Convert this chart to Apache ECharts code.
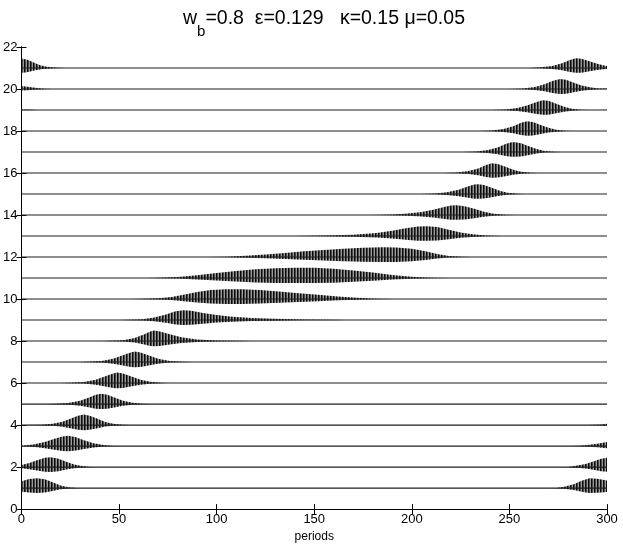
<!DOCTYPE html>
<html>
<head>
<meta charset="utf-8">
<script src="https://cdn.jsdelivr.net/npm/echarts@6/dist/echarts.min.js"></script>
<style>html,body{margin:0;padding:0;background:#fff;}#chart{width:623px;height:548px;}</style>
</head>
<body>
<div id="chart"></div>
<script>
// ---- data ----
// each trace: [period, upper envelope, lower envelope] relative to its offset
const offsets = [1,2,3,4,5,6,7,8,9,10,11,12,13,14,15,16,17,18,19,20,21];
const xTicks = [0,50,100,150,200,250,300];
const yTicks = [0,2,4,6,8,10,12,14,16,18,20,22];

const trace1 = [[0,0.33,0.17],[4,0.43,0.21],[8,0.47,0.23],[12,0.42,0.21],[16,0.28,0.14],[20,0.12,0.06],[24,0.04,0.02],[28,0.01,0.005],[32,0,0],[270,0,0],[274,0.01,0.005],[278,0.06,0.03],[283,0.18,0.09],[287,0.35,0.17],[291,0.47,0.23],[295,0.44,0.22],[300,0.36,0.18]];
const trace2 = [[0,0.1,0.05],[4,0.2,0.1],[8,0.33,0.16],[12,0.45,0.22],[15,0.47,0.23],[19,0.4,0.2],[23,0.25,0.12],[27,0.12,0.06],[31,0.05,0.025],[35,0.01,0.005],[39,0,0],[276,0,0],[280,0.01,0.005],[284,0.06,0.03],[289,0.15,0.07],[293,0.27,0.13],[297,0.4,0.2],[300,0.45,0.22]];
const trace3 = [[0,0.02,0.01],[6,0.07,0.035],[12,0.2,0.1],[17,0.35,0.17],[21,0.46,0.23],[24,0.49,0.24],[28,0.42,0.21],[32,0.28,0.14],[37,0.14,0.07],[42,0.05,0.025],[47,0.01,0.005],[51,0,0],[282,0,0],[286,0.02,0.01],[290,0.05,0.025],[295,0.11,0.055],[300,0.2,0.1]];
const trace4 = [[0,0,0],[10,0.01,0.005],[16,0.06,0.03],[21,0.16,0.08],[25,0.3,0.15],[29,0.45,0.22],[32,0.5,0.25],[35,0.45,0.22],[39,0.3,0.15],[43,0.15,0.07],[47,0.06,0.03],[52,0.01,0.005],[56,0,0],[290,0,0],[294,0.01,0.005],[297,0.03,0.015],[300,0.06,0.03]];
const trace5 = [[0,0,0],[13,0,0],[17,0.01,0.005],[24,0.05,0.025],[30,0.16,0.08],[35,0.32,0.16],[38,0.44,0.22],[41,0.49,0.24],[44,0.44,0.22],[48,0.3,0.15],[52,0.16,0.08],[57,0.06,0.03],[62,0.01,0.005],[66,0,0],[300,0,0]];
const trace6 = [[0,0,0],[20,0,0],[24,0.01,0.005],[32,0.05,0.025],[38,0.16,0.08],[43,0.32,0.16],[47,0.46,0.23],[49,0.5,0.25],[52,0.46,0.23],[56,0.32,0.16],[61,0.16,0.08],[66,0.06,0.03],[72,0.01,0.005],[76,0,0],[300,0,0]];
const trace7 = [[0,0,0],[29,0,0],[33,0.01,0.005],[41,0.05,0.025],[47,0.16,0.08],[52,0.32,0.16],[56,0.46,0.23],[58,0.5,0.25],[61,0.46,0.23],[65,0.32,0.16],[70,0.16,0.08],[76,0.05,0.025],[83,0.01,0.005],[88,0,0],[300,0,0]];
const trace8 = [[0,0,0],[41,0,0],[45,0.01,0.005],[52,0.04,0.02],[58,0.15,0.07],[63,0.33,0.16],[66,0.46,0.23],[68,0.5,0.25],[71,0.46,0.23],[76,0.32,0.16],[82,0.18,0.09],[90,0.08,0.04],[100,0.03,0.015],[112,0.01,0.005],[118,0,0],[300,0,0]];
const trace9 = [[0,0,0],[50,0,0],[55,0.01,0.005],[62,0.04,0.02],[68,0.12,0.06],[74,0.27,0.13],[79,0.42,0.21],[83,0.47,0.23],[87,0.44,0.22],[93,0.34,0.17],[100,0.24,0.12],[108,0.16,0.08],[118,0.1,0.05],[130,0.06,0.03],[145,0.03,0.015],[160,0.01,0.005],[166,0,0],[300,0,0]];
const trace10 = [[0,0,0],[57,0,0],[62,0.01,0.005],[70,0.04,0.02],[77,0.1,0.05],[83,0.2,0.1],[90,0.33,0.16],[97,0.43,0.21],[105,0.47,0.23],[113,0.47,0.23],[122,0.43,0.21],[132,0.36,0.18],[142,0.28,0.14],[152,0.2,0.1],[162,0.12,0.06],[172,0.06,0.03],[182,0.02,0.01],[192,0.005,0.003],[198,0,0],[300,0,0]];
const trace11 = [[0,0,0],[64,0,0],[70,0.01,0.005],[80,0.05,0.025],[90,0.13,0.065],[100,0.24,0.12],[110,0.34,0.17],[120,0.42,0.21],[130,0.47,0.23],[140,0.49,0.24],[150,0.49,0.24],[160,0.44,0.22],[170,0.36,0.18],[180,0.26,0.13],[190,0.14,0.07],[200,0.06,0.03],[210,0.02,0.01],[220,0.005,0.003],[226,0,0],[300,0,0]];
const trace12 = [[0,0,0],[90,0,0],[95,0.005,0.003],[105,0.02,0.01],[115,0.06,0.03],[125,0.12,0.06],[135,0.19,0.09],[145,0.27,0.13],[155,0.34,0.17],[165,0.4,0.2],[175,0.44,0.22],[185,0.47,0.23],[192,0.46,0.23],[200,0.4,0.2],[207,0.28,0.14],[213,0.14,0.07],[219,0.05,0.025],[226,0.01,0.005],[231,0,0],[300,0,0]];
const trace13 = [[0,0,0],[135,0,0],[140,0.005,0.003],[155,0.02,0.01],[170,0.06,0.03],[182,0.14,0.07],[190,0.25,0.12],[197,0.37,0.18],[203,0.45,0.22],[208,0.47,0.23],[213,0.43,0.21],[219,0.3,0.15],[225,0.17,0.08],[231,0.08,0.04],[238,0.03,0.015],[246,0.005,0.003],[251,0,0],[300,0,0]];
const trace14 = [[0,0,0],[175,0,0],[180,0.005,0.003],[190,0.02,0.01],[198,0.07,0.035],[205,0.14,0.07],[211,0.25,0.12],[216,0.37,0.18],[220,0.45,0.22],[223,0.47,0.23],[227,0.42,0.21],[232,0.3,0.15],[237,0.16,0.08],[242,0.06,0.03],[248,0.01,0.005],[253,0,0],[300,0,0]];
const trace15 = [[0,0,0],[200,0,0],[205,0.005,0.003],[212,0.03,0.015],[218,0.09,0.045],[224,0.2,0.1],[229,0.37,0.18],[232,0.45,0.22],[234,0.47,0.23],[237,0.43,0.21],[241,0.3,0.15],[245,0.16,0.08],[249,0.06,0.03],[254,0.01,0.005],[258,0,0],[300,0,0]];
const trace16 = [[0,0,0],[212,0,0],[216,0.005,0.003],[223,0.03,0.015],[229,0.1,0.05],[234,0.22,0.11],[238,0.38,0.19],[241,0.47,0.23],[244,0.43,0.21],[248,0.3,0.15],[252,0.16,0.08],[256,0.06,0.03],[261,0.01,0.005],[265,0,0],[300,0,0]];
const trace17 = [[0,0,0],[222,0,0],[226,0.005,0.003],[233,0.03,0.015],[239,0.1,0.05],[244,0.22,0.11],[248,0.38,0.19],[251,0.46,0.23],[253,0.47,0.23],[256,0.42,0.21],[260,0.28,0.14],[264,0.14,0.07],[268,0.05,0.025],[273,0.01,0.005],[277,0,0],[300,0,0]];
const trace18 = [[0,0,0],[230,0,0],[234,0.005,0.003],[241,0.03,0.015],[247,0.1,0.05],[252,0.23,0.11],[256,0.39,0.19],[259,0.47,0.23],[262,0.43,0.21],[266,0.29,0.14],[270,0.15,0.07],[274,0.06,0.03],[279,0.01,0.005],[283,0,0],[300,0,0]];
const trace19 = [[0,0.03,0.015],[4,0.02,0.01],[8,0.005,0.003],[12,0,0],[237,0,0],[241,0.005,0.003],[248,0.03,0.015],[254,0.1,0.05],[259,0.22,0.11],[264,0.38,0.19],[267,0.47,0.23],[270,0.44,0.22],[274,0.3,0.15],[278,0.16,0.08],[282,0.06,0.03],[287,0.01,0.005],[291,0,0],[296,0.005,0.003],[300,0.01,0.005]];
const trace20 = [[0,0.14,0.07],[3,0.11,0.055],[6,0.07,0.035],[9,0.04,0.02],[12,0.015,0.008],[16,0.005,0.003],[20,0,0],[246,0,0],[250,0.005,0.003],[257,0.03,0.015],[263,0.1,0.05],[268,0.23,0.11],[272,0.38,0.19],[276,0.48,0.24],[279,0.44,0.22],[283,0.3,0.15],[287,0.17,0.08],[292,0.07,0.035],[296,0.03,0.015],[300,0.02,0.01]];
const trace21 = [[0,0.45,0.22],[2,0.42,0.21],[4,0.36,0.18],[6,0.27,0.13],[8,0.19,0.09],[10,0.12,0.06],[13,0.06,0.03],[17,0.02,0.01],[22,0.005,0.003],[26,0,0],[256,0,0],[260,0.005,0.003],[266,0.03,0.015],[272,0.1,0.05],[277,0.23,0.11],[281,0.38,0.19],[284,0.47,0.23],[287,0.44,0.22],[291,0.32,0.16],[295,0.2,0.1],[298,0.13,0.065],[300,0.1,0.05]];

const traces = [trace1,trace2,trace3,trace4,trace5,trace6,trace7,trace8,trace9,trace10,trace11,trace12,trace13,trace14,trace15,trace16,trace17,trace18,trace19,trace20,trace21];
const xRange = [0, 300];

// ---- style: dense vertical stripes to imitate the fast oscillation ----
const pat = document.createElement('canvas');
pat.width = 3; pat.height = 2;
const pctx = pat.getContext('2d');
['#0a0a0a','#4a4a4a','#9a9a9a'].forEach((c,i)=>{ pctx.fillStyle=c; pctx.fillRect(i,0,1,2); });
const stripeFill = { image: pat, repeat: 'repeat' };

const FONT = '"Liberation Sans", Arial, Helvetica, sans-serif';
const chart = echarts.init(document.getElementById('chart'), null, {renderer:'canvas'});

function renderTrace(params, api) {
  const idx = api.value(2);
  const off = offsets[idx];
  const env = traces[idx];
  const upper = env.map(p => api.coord([p[0], off + p[1]]));
  const lower = env.slice().reverse().map(p => api.coord([p[0], off - p[2]]));
  const b0 = api.coord([xRange[0], off]);
  const b1 = api.coord([xRange[1], off]);
  return {
    type: 'group',
    children: [
      { type: 'polygon', shape: { points: upper.concat(lower) }, style: { fill: stripeFill, stroke: null } },
      { type: 'line', shape: { x1: b0[0], y1: b0[1], x2: b1[0], y2: b1[1] }, style: { stroke: '#1e1e1e', lineWidth: 1.1 } }
    ]
  };
}

const axisCommon = {
  axisLine: { show: true, lineStyle: { color: '#000', width: 1 } },
  axisTick: { show: true, inside: true, length: 5, lineStyle: { color: '#000' } },
  splitLine: { show: false }
};

chart.setOption({
  animation: false,
  backgroundColor: '#fff',
  title: {
    text: '{m|w}{s|b}{m|=0.8  ε=0.129   κ=0.15 μ=0.05}',
    left: 183, top: 9, padding: 0,
    textStyle: {
      fontWeight: 'normal',
      rich: {
        m: { fontSize: 19.5, fontFamily: FONT, fontWeight: 'normal', color: '#000', lineHeight: 24, verticalAlign: 'top' },
        s: { fontSize: 15, fontFamily: FONT, fontWeight: 'normal', color: '#000', lineHeight: 30, verticalAlign: 'bottom' }
      }
    }
  },
  grid: { left: 19, right: 16, top: 47, bottom: 37, containLabel: false },
  xAxis: [
    Object.assign({ type: 'value', min: xRange[0], max: xRange[1], interval: 50, position: 'bottom',
      name: 'periods', nameLocation: 'middle', nameGap: 21,
      nameTextStyle: { fontSize: 12, fontFamily: FONT, color: '#000' },
      axisLabel: { fontSize: 13, fontFamily: FONT, color: '#000', margin: 4 } }, axisCommon),
    Object.assign({ type: 'value', min: xRange[0], max: xRange[1], interval: 50, position: 'top',
      axisLabel: { show: false } }, axisCommon)
  ],
  yAxis: [
    Object.assign({ type: 'value', min: yTicks[0], max: yTicks[yTicks.length-1], interval: 2, position: 'left',
      axisLabel: { fontSize: 13, fontFamily: FONT, color: '#000', margin: 4 } }, axisCommon),
    Object.assign({ type: 'value', min: yTicks[0], max: yTicks[yTicks.length-1], interval: 2, position: 'right',
      axisLabel: { show: false } }, axisCommon)
  ],
  series: [{
    type: 'custom',
    xAxisIndex: 0, yAxisIndex: 0,
    clip: true,
    renderItem: renderTrace,
    encode: { x: 0, y: 1 },
    data: offsets.map((o, i) => [xRange[0], o, i])
  }]
});
</script>
</body>
</html>
